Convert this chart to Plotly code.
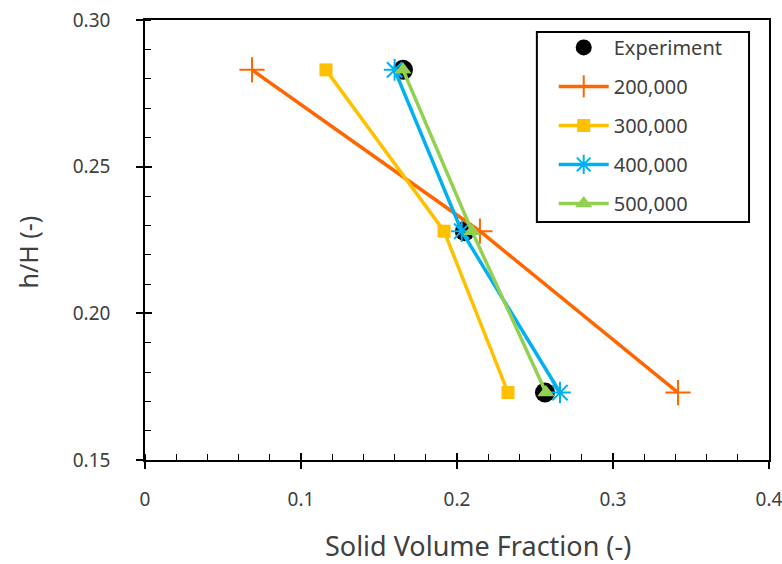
import plotly.graph_objects as go

h_over_H = [0.283, 0.228, 0.173]
exp_x = [0.1654, 0.2050, 0.2564]
s200_x = [0.0686, 0.2147, 0.3417]
s300_x = [0.1160, 0.1917, 0.2327]
s400_x = [0.1600, 0.2030, 0.2660]
s500_x = [0.1654, 0.2096, 0.2570]

x_ticks = [0, 0.1, 0.2, 0.3, 0.4]
x_tick_labels = ["0", "0.1", "0.2", "0.3", "0.4"]
y_ticks = [0.15, 0.20, 0.25, 0.30]
y_tick_labels = ["0.15", "0.20", "0.25", "0.30"]
x_title = "Solid Volume Fraction (-)"
y_title = "h/H (-)"

font_family = "Noto Sans, Open Sans, DejaVu Sans, sans-serif"
txt = "#404040"

fig = go.Figure()
fig.add_trace(go.Scatter(x=exp_x, y=h_over_H, mode="markers", name="Experiment", legendgroup="g0",
                         marker=dict(symbol="circle", size=20, color="black")))
fig.add_trace(go.Scatter(x=s200_x, y=h_over_H, mode="lines+markers", name="200,000", legendgroup="g1",
                         line=dict(color="#FF6600", width=3.5),
                         marker=dict(symbol="cross-thin-open", size=18,
                                     line=dict(color="#ED7D31", width=2))))
fig.add_trace(go.Scatter(x=s300_x, y=h_over_H, mode="lines+markers", name="300,000", legendgroup="g2",
                         line=dict(color="#FFC000", width=3.5),
                         marker=dict(symbol="square", size=13, color="#FFC000")))
fig.add_trace(go.Scatter(x=s400_x, y=h_over_H, mode="lines+markers", name="400,000", legendgroup="g3",
                         line=dict(color="#00B0F0", width=3.5),
                         marker=dict(symbol="asterisk-open", size=18,
                                     line=dict(color="#00B0F0", width=2))))
fig.add_trace(go.Scatter(x=s500_x, y=h_over_H, mode="lines+markers", name="500,000", legendgroup="g4",
                         line=dict(color="#92D050", width=3.5),
                         marker=dict(symbol="triangle-up", size=15, color="#92D050")))

fig.update_layout(
    width=782, height=564,
    margin=dict(l=145, r=13, t=20, b=104, autoexpand=False),
    paper_bgcolor="white", plot_bgcolor="white",
    font=dict(family=font_family, color=txt),
    showlegend=True,
    legend=dict(x=0.655, y=0.982, xanchor="left", yanchor="top",
                borderwidth=0, bgcolor="rgba(0,0,0,0)",
                font=dict(size=20, color=txt), tracegroupgap=10,
                itemwidth=50),
    shapes=[dict(type="rect", xref="paper", yref="paper", x0=0.628, x1=0.968,
                 y0=0.541, y1=0.973, line=dict(color="black", width=2),
                 fillcolor="white", layer="below")],
    annotations=[
        dict(text=x_title, xref="paper", yref="paper", x=0.534, y=-0.194,
             xanchor="center", yanchor="middle", showarrow=False,
             font=dict(size=27, color=txt)),
        dict(text=y_title, xref="paper", yref="paper", x=-0.188, y=0.473,
             xanchor="center", yanchor="middle", showarrow=False, textangle=-90,
             font=dict(size=25, color=txt)),
    ],
    xaxis=dict(range=[0, 0.4], tickvals=x_ticks, ticktext=x_tick_labels, automargin=False,
               showgrid=False, zeroline=False, showline=True, linecolor="black",
               linewidth=1.5, mirror=True, ticks="outside", ticklen=7, tickwidth=1.5,
               tickcolor="black", tickfont=dict(size=19, color=txt), ticklabelstandoff=14,
               ticklabeloverflow="allow",
               minor=dict(dtick=0.02, ticks="inside", ticklen=6, tickwidth=1.2, tickcolor="black")),
    yaxis=dict(range=[0.15, 0.30], tickvals=y_ticks, ticktext=y_tick_labels, automargin=False,
               showgrid=False, zeroline=False, showline=True, linecolor="black",
               linewidth=1.5, mirror=True, ticks="outside", ticklen=7, tickwidth=1.5,
               tickcolor="black", tickfont=dict(size=19, color=txt), ticklabelstandoff=22,
               minor=dict(dtick=0.01, ticks="inside", ticklen=6, tickwidth=1.2, tickcolor="black")),
    xaxis2=dict(range=[0, 0.4], overlaying="x", matches="x", tickvals=x_ticks, showticklabels=False,
                showgrid=False, zeroline=False, showline=False, ticks="inside", ticklen=7,
                tickwidth=1.5, tickcolor="black", automargin=False),
    yaxis2=dict(range=[0.15, 0.30], overlaying="y", matches="y", tickvals=y_ticks, showticklabels=False,
                showgrid=False, zeroline=False, showline=False, ticks="inside", ticklen=7,
                tickwidth=1.5, tickcolor="black", automargin=False),
)
fig.add_trace(go.Scatter(x=[None], y=[None], xaxis="x2", yaxis="y2", showlegend=False, hoverinfo="skip"))

fig.write_html("out.html", config={"displayModeBar": False},
               post_script="document.body.style.margin='0px';document.body.style.overflow='hidden';")
